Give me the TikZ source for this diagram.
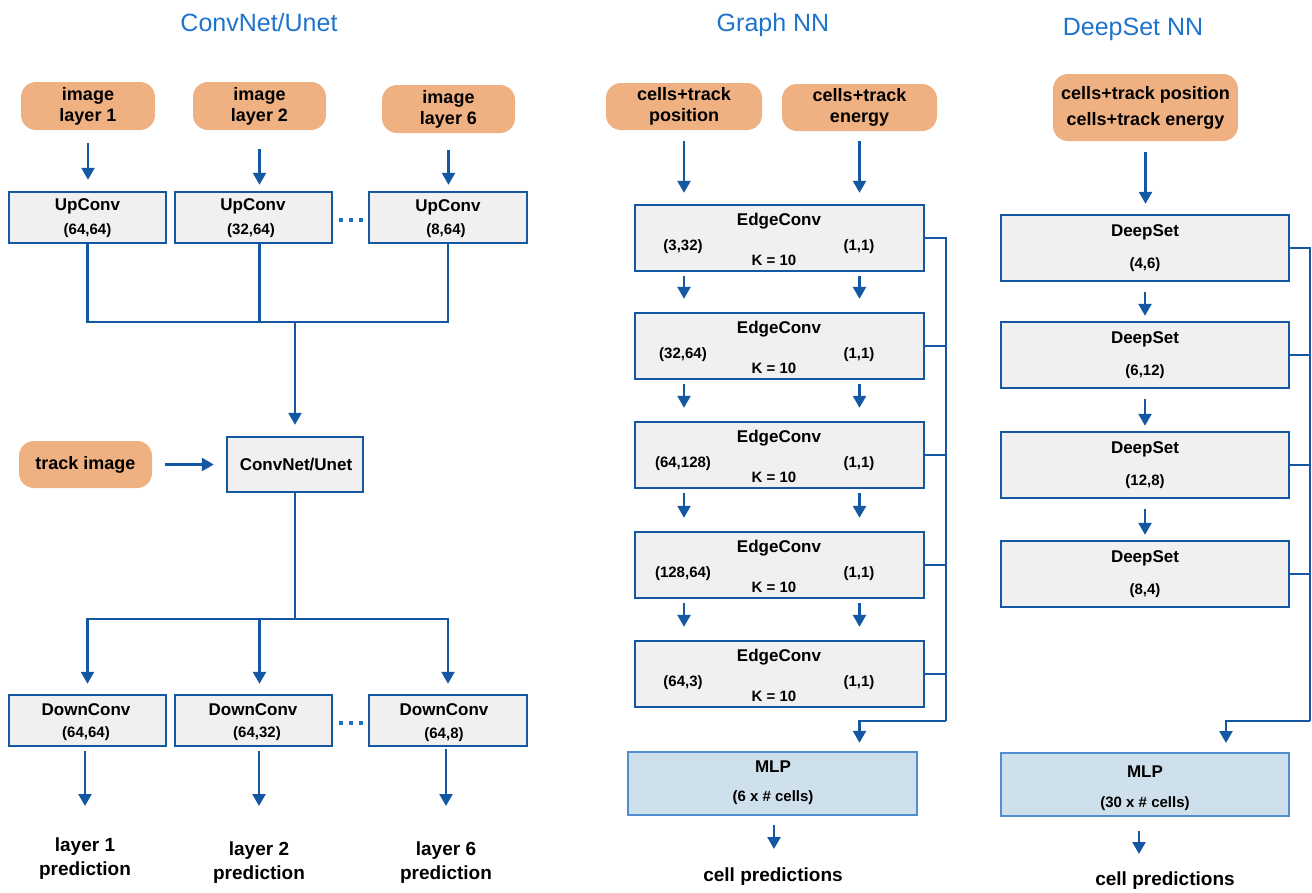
\documentclass[tikz,border=0pt]{standalone}
\usepackage{fontspec}
\setmainfont{Liberation Sans}
\usetikzlibrary{arrows.meta,calc}
\definecolor{lineblue}{RGB}{20,88,164}
\definecolor{titleblue}{RGB}{30,115,205}
\definecolor{dotblue}{RGB}{30,110,200}
\definecolor{inorange}{RGB}{239,176,130}
\definecolor{boxgray}{RGB}{240,240,240}
\definecolor{mlpfill}{RGB}{205,224,236}
\definecolor{mlpborder}{RGB}{80,142,205}
\begin{document}
\begin{tikzpicture}[x=1pt,y=-1pt,
  inp/.style={fill=inorange, rounded corners=15pt, inner sep=0pt, font=\fontsize{18}{21}\selectfont\bfseries, align=center},
  blk/.style={draw=lineblue, fill=boxgray, line width=2.4pt, inner sep=0pt},
  mlpbox/.style={draw=mlpborder, fill=mlpfill, line width=2.4pt, inner sep=0pt},
  ttl/.style={font=\fontsize{17}{20}\selectfont\bfseries, inner sep=0pt},
  prm/.style={font=\fontsize{15}{18}\selectfont\bfseries, inner sep=0pt},
  outtxt/.style={font=\fontsize{19}{24}\selectfont\bfseries, align=center, inner sep=0pt},
  head/.style={font=\fontsize{25}{30}\selectfont, text=titleblue, inner sep=0pt, anchor=base},
  ln/.style={draw=lineblue, line width=2.5pt},
  arr/.style={ln, -{Triangle[width=13pt,length=12pt]}},
  dotsline/.style={draw=dotblue, line width=4pt, dash pattern=on 4pt off 6pt}
]
\useasboundingbox (0,0) rectangle (1312,892);

% ---------- titles
\node[head] (h1) at (259,31) {ConvNet/Unet};
\node[head] (h2) at (773,31) {Graph NN};
\node[head] (h3) at (1133,35) {DeepSet NN};

% ---------- left column
\node[inp, minimum width=134pt, minimum height=48pt] (il1) at (88,106) {image\\layer 1};
\node[inp, minimum width=133pt, minimum height=48pt] (il2) at (259.5,106) {image\\layer 2};
\node[inp, minimum width=133pt, minimum height=48pt] (il6) at (448.5,109) {image\\layer 6};

\node[blk, minimum width=157pt, minimum height=51pt] (up1) at (87.5,217.5) {};
\node[blk, minimum width=157pt, minimum height=51pt] (up2) at (253.5,217.5) {};
\node[blk, minimum width=158pt, minimum height=51pt] (up3) at (448,217.5) {};
\node[ttl] (up1t) at (87.5,206) {UpConv};
\node[prm] (up1p) at (87.5,231) {(64,64)};
\node[ttl] (up2t) at (253,206) {UpConv};
\node[prm] (up2p) at (251,231) {(32,64)};
\node[ttl] (up3t) at (448,207) {UpConv};
\node[prm] (up3p) at (446,231) {(8,64)};
\draw[dotsline] ($(up2.east)+(6,2)$) -- ($(up3.west)+(-5,2)$);

\draw[arr, shorten <=13pt, shorten >=11pt] (il1.south) -- (il1.south |- up1.north);
\draw[arr, shorten <=19pt, shorten >=6pt] (il2.south) -- (il2.south |- up2.north);
\draw[arr, shorten <=17pt, shorten >=6pt] (il6.south) -- (il6.south |- up3.north);

\coordinate (busA) at (295,322);
\draw[ln] (up1.south) -- (up1.south |- busA) -- (up3.south |- busA) -- (up3.south);
\draw[ln] (il2.south |- up2.south) -- (il2.south |- busA);

\node[blk, minimum width=136pt, minimum height=55pt] (cnn) at (295,464.5) {};
\node[ttl] (cnnt) at (296,465) {ConvNet/Unet};
\node[inp, minimum width=133pt, minimum height=47pt] (track) at (85.5,464.5) {track image};
\draw[arr] (busA) -- ($(busA |- cnn.north)+(0,-11)$);
\draw[arr, shorten <=13pt, shorten >=12pt] (track.east) -- (cnn.west);

\coordinate (busB) at (295,619);
\draw[ln] (cnn.south) -- (busB);
\node[blk, minimum width=157pt, minimum height=51pt] (dc1) at (87.5,720.5) {};
\node[blk, minimum width=157pt, minimum height=51pt] (dc2) at (253.5,720.5) {};
\node[blk, minimum width=158pt, minimum height=51pt] (dc3) at (448,720.5) {};
\node[ttl] (dc1t) at (86,710) {DownConv};
\node[prm] (dc1p) at (86,734) {(64,64)};
\node[ttl] (dc2t) at (253,710) {DownConv};
\node[prm] (dc2p) at (257,734) {(64,32)};
\node[ttl] (dc3t) at (444,710) {DownConv};
\node[prm] (dc3p) at (444,735) {(64,8)};
\draw[dotsline] ($(dc2.east)+(6,2)$) -- ($(dc3.west)+(-5,2)$);

\draw[arr, shorten >=10pt] (busB) -| (dc1.north);
\draw[arr, shorten >=10pt] (busB) -| (dc3.north);
\draw[arr, shorten >=10pt] (busB -| il2.south) -- (il2.south |- dc2.north);

\node[outtxt] (pr1) at (85,859) {layer 1\\prediction};
\node[outtxt] (pr2) at (259,863) {layer 2\\prediction};
\node[outtxt] (pr3) at (446,863) {layer 6\\prediction};
\coordinate (pa1) at (85,806);
\coordinate (pa2) at (259,806);
\coordinate (pa3) at (446,806);
\draw[arr, shorten <=4pt] (dc1.south -| pa1) -- (pa1);
\draw[arr, shorten <=4pt] (dc2.south -| pa2) -- (pa2);
\draw[arr, shorten <=2pt] (dc3.south -| pa3) -- (pa3);

% ---------- middle column (Graph NN)
\node[inp, minimum width=156pt, minimum height=47pt] (opos) at (684,106.5) {cells+track\\position};
\node[inp, minimum width=155pt, minimum height=47pt] (oen) at (859.5,107.5) {cells+track\\energy};

\foreach \i/\y/\lp in {1/238/{(3,32)},2/346/{(32,64)},3/455/{(64,128)},4/565/{(128,64)},5/674/{(64,3)}}{
  \node[blk, minimum width=289pt, minimum height=66pt] (e\i) at (779.5,\y) {};
  \node[ttl] (e\i t) at (779,\y-17) {EdgeConv};
  \node[prm] (e\i l) at (683,\y+9) {\lp};
  \node[prm] (e\i r) at (859,\y+9) {(1,1)};
  \node[prm] (e\i k) at (774,\y+22) {K = 10};
}
\draw[arr, shorten <=11pt, shorten >=11pt] (opos.south) -- (opos.south |- e1.north);
\draw[arr, shorten <=10pt, shorten >=11pt] (oen.south) -- (oen.south |- e1.north);
\foreach \a/\b in {1/2,2/3,3/4,4/5}{
  \draw[arr, shorten <=4pt, shorten >=13pt] (opos.south |- e\a.south) -- (opos.south |- e\b.north);
  \draw[arr, shorten <=4pt, shorten >=13pt] (oen.south |- e\a.south) -- (oen.south |- e\b.north);
}
\coordinate (gb) at (946,721);
\draw[ln] (e1.east) -- (e1.east -| gb) -- (gb);
\foreach \i in {2,3,4,5}{ \draw[ln] (e\i.east) -- (e\i.east -| gb); }

\node[mlpbox, minimum width=289pt, minimum height=63pt] (mlp1) at (772.5,783.5) {};
\node[ttl] (mlp1t) at (773,767) {MLP};
\node[prm] (mlp1p) at (773,798) {(6 x \# cells)};
\draw[arr, shorten >=8pt] (gb) -| (oen.south |- mlp1.north);

\node[outtxt] (cp1) at (773,877) {cell predictions};
\coordinate (cpa1) at (774,849);
\draw[arr, shorten <=9pt] (mlp1.south -| cpa1) -- (cpa1);

% ---------- right column (DeepSet NN)
\node[inp, minimum width=185pt, minimum height=67pt, font=\fontsize{18}{26}\selectfont\bfseries] (ods) at (1145.5,107.5) {cells+track position\\cells+track energy};

\foreach \i/\y/\lp in {1/248/{(4,6)},2/355/{(6,12)},3/465/{(12,8)},4/574/{(8,4)}}{
  \node[blk, minimum width=288pt, minimum height=66pt] (d\i) at (1145,\y) {};
  \node[ttl] (d\i t) at (1145,\y-16) {DeepSet};
  \node[prm] (d\i p) at (1145,\y+17) {\lp};
}
\draw[arr, shorten <=11pt, shorten >=10pt] (ods.south) -- (ods.south |- d1.north);
\foreach \a/\b in {1/2,2/3,3/4}{
  \draw[arr, shorten <=10pt, shorten >=5pt] (d\a.south) -- (d\b.north);
}
\coordinate (db) at (1310,721);
\draw[ln] (d1.east) -- (d1.east -| db) -- (db);
\foreach \i in {2,3,4}{ \draw[ln] (d\i.east) -- (d\i.east -| db); }

\node[mlpbox, minimum width=288pt, minimum height=63pt] (mlp2) at (1145,784.5) {};
\node[ttl] (mlp2t) at (1145,772) {MLP};
\node[prm] (mlp2p) at (1145,804) {(30 x \# cells)};
\coordinate (mt2) at (1226,753);
\draw[arr, shorten >=10pt] (db) -| (mt2);

\node[outtxt] (cp2) at (1165,881) {cell predictions};
\coordinate (cpa2) at (1139,854);
\draw[arr, shorten <=14pt] (mlp2.south -| cpa2) -- (cpa2);

\end{tikzpicture}
\end{document}
